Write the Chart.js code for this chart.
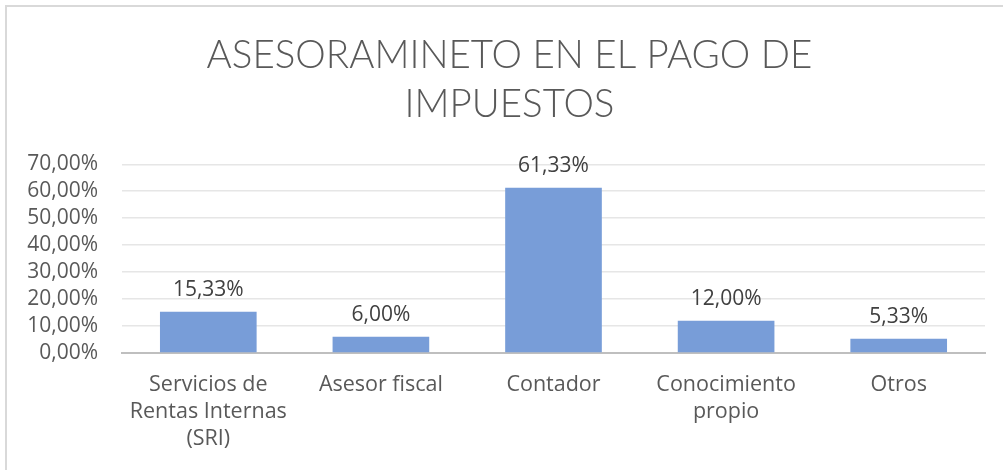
<!DOCTYPE html>
<html>
<head>
<meta charset="utf-8">
<script src="https://cdn.jsdelivr.net/npm/chart.js@4"></script>
<style>
  html, body { margin: 0; padding: 0; background: #fff; }
  body { width: 1003px; height: 470px; overflow: hidden; position: relative; }
  .frame { position: absolute; left: 5px; top: 5px; width: 1020px; height: 480px;
           border: 2px solid #d9d9d9; box-sizing: border-box; }
  #wrap { position: absolute; left: 0; top: 0; width: 1003px; height: 470px; }
</style>
</head>
<body>
<div class="frame"></div>
<div id="wrap"><canvas id="chart"></canvas></div>
<script>
// ── Data ──────────────────────────────────────────────────────
const categories = [
  ['Servicios de', 'Rentas Internas', '(SRI)'],
  'Asesor fiscal',
  'Contador',
  ['Conocimiento', 'propio'],
  'Otros'
];
const values = [15.33, 6.00, 61.33, 12.00, 5.33];
const titleLines = ['ASESORAMINETO EN EL PAGO DE', 'IMPUESTOS'];

const fmt = v => v.toFixed(2).replace('.', ',') + '%';

const textGray = '#595959';
const barBlue = '#789dd8';
const FONT = "'Open Sans', sans-serif";

// ── Value labels above the bars ───────────────────────────────
const valueLabels = {
  id: 'valueLabels',
  afterLayout(chart) {
    // the original frame is a bit wider than the window, so its title sits further right
    const t = chart.titleBlock;
    if (t) { t.left += 14; t.right += 14; }
  },
  afterDatasetsDraw(chart) {
    const { ctx } = chart;
    const meta = chart.getDatasetMeta(0);
    ctx.save();
    ctx.font = `21px ${FONT}`;
    ctx.fillStyle = '#404040';
    ctx.textAlign = 'center';
    ctx.textBaseline = 'bottom';
    meta.data.forEach((bar, i) => {
      ctx.fillText(fmt(values[i]), bar.x, bar.y - 11);
    });
    ctx.restore();
  }
};

Chart.defaults.font.family = FONT;
Chart.defaults.color = textGray;

new Chart(document.getElementById('chart'), {
  type: 'bar',
  data: {
    labels: categories,
    datasets: [{
      data: values,
      backgroundColor: barBlue,
      borderWidth: 0,
      categoryPercentage: 0.56,
      barPercentage: 1
    }]
  },
  options: {
    responsive: true,
    maintainAspectRatio: false,
    animation: false,
    layout: { padding: { left: 6, right: 18, top: 0, bottom: 0 } },
    plugins: {
      legend: { display: false },
      tooltip: { enabled: false },
      title: {
        display: true,
        text: titleLines,
        color: textGray,
        font: { family: "'Lato', sans-serif", size: 38.5, weight: '300', lineHeight: 1.25 },
        padding: { top: 32, bottom: 36 }
      }
    },
    scales: {
      x: {
        grid: { display: false, drawTicks: false },
        border: { color: '#bfbfbf', width: 2 },
        afterFit: scale => { scale.height = 117; },
        ticks: {
          color: textGray,
          font: { size: 21.5, lineHeight: 1.26 },
          padding: 18,
          maxRotation: 0,
          autoSkip: false
        }
      },
      y: {
        min: 0,
        max: 70,
        grid: { color: '#e6e6e6', lineWidth: 1.5, drawTicks: false },
        border: { display: false },
        afterFit: scale => { scale.width = 116; },
        ticks: {
          stepSize: 10,
          autoSkip: false,
          color: textGray,
          font: { size: 21 },
          padding: 24,
          callback: v => fmt(v)
        }
      }
    }
  },
  plugins: [valueLabels]
});
</script>
</body>
</html>
